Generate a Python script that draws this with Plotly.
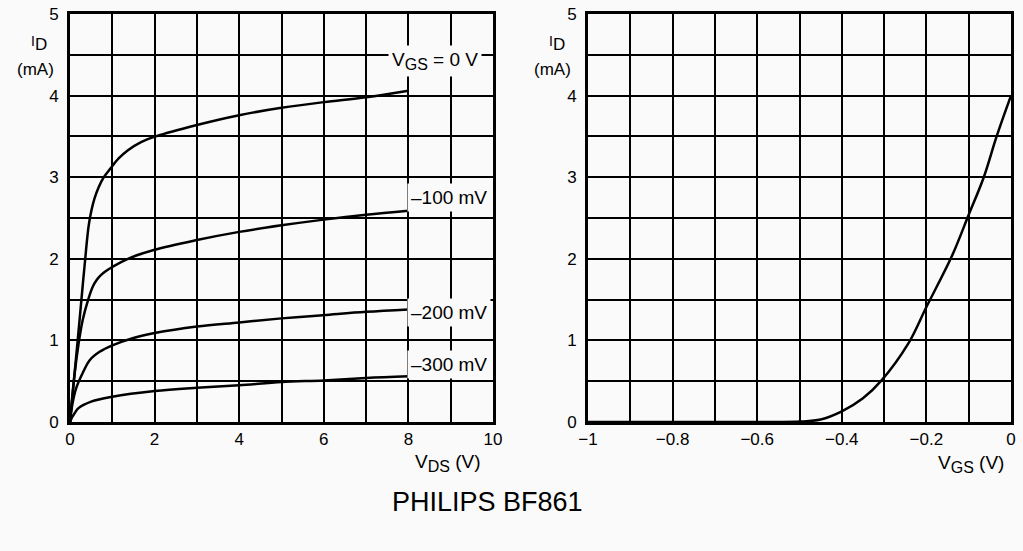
import plotly.graph_objects as go

# ---- Output characteristics (left) ----
vds_0 = [0, 0.1, 0.2, 0.27, 0.36, 0.44, 0.51, 0.58, 0.68, 0.8, 0.96, 1.15, 1.37, 1.68, 2.03, 3, 4, 5, 6, 7, 8]
id_0 = [0, 0.55, 1.1, 1.5, 2.0, 2.4, 2.6, 2.74, 2.88, 3.0, 3.11, 3.23, 3.33, 3.43, 3.5, 3.64, 3.76, 3.85, 3.92, 3.98, 4.06]

vds_100 = [0, 0.1, 0.2, 0.3, 0.43, 0.54, 0.63, 0.73, 0.85, 1.0, 1.37, 2, 3, 4, 5, 6, 7, 8]
id_100 = [0, 0.55, 0.95, 1.25, 1.5, 1.66, 1.74, 1.8, 1.85, 1.9, 2.0, 2.11, 2.23, 2.33, 2.41, 2.48, 2.54, 2.59]

vds_200 = [0, 0.05, 0.15, 0.3, 0.47, 0.7, 1, 1.5, 2, 3, 4, 5, 6, 7, 8]
id_200 = [0, 0.2, 0.42, 0.6, 0.76, 0.86, 0.94, 1.03, 1.09, 1.17, 1.22, 1.27, 1.31, 1.35, 1.38]

vds_300 = [0, 0.05, 0.1, 0.2, 0.5, 1, 2, 3, 4, 5, 6, 7, 8]
id_300 = [0, 0.06, 0.1, 0.17, 0.25, 0.31, 0.38, 0.42, 0.45, 0.49, 0.51, 0.54, 0.56]

SUB = "<sub><span style='font-size:16px'>{}</span></sub>"
curve_labels = ["V" + SUB.format("GS") + " = 0 V", "\u2013100 mV", "\u2013200 mV", "\u2013300 mV"]
label_x = [8.63, 8.96, 8.96, 8.96]
label_y = [4.42, 2.75, 1.34, 0.70]

# ---- Transfer characteristic (right) ----
vgs = [-1, -0.9, -0.8, -0.7, -0.6, -0.55, -0.5, -0.45, -0.4, -0.35, -0.306, -0.243, -0.2, -0.14, -0.1, -0.065, -0.034, 0]
id_t = [0, 0, 0, 0, 0, 0, 0.005, 0.03, 0.13, 0.29, 0.51, 0.96, 1.41, 2.03, 2.54, 2.99, 3.5, 4.0]

x_left_ticks = [0, 2, 4, 6, 8, 10]
x_right_ticks = [-1, -0.8, -0.6, -0.4, -0.2, 0]
x_right_text = ["\u22121", "\u22120.8", "\u22120.6", "\u22120.4", "\u22120.2", "0"]
y_ticks = [0, 1, 2, 3, 4, 5]

BG = "#fafafa"
FONT = "Liberation Sans, Arial, Helvetica, sans-serif"

fig = go.Figure()
line = dict(color="black", width=2.5, shape="spline", smoothing=1.0)
for xs, ys in [(vds_0, id_0), (vds_100, id_100), (vds_200, id_200), (vds_300, id_300)]:
    fig.add_trace(go.Scatter(x=xs, y=ys, mode="lines", line=line, xaxis="x", yaxis="y",
                             showlegend=False, hoverinfo="skip"))
fig.add_trace(go.Scatter(x=vgs, y=id_t, mode="lines", line=line, xaxis="x2", yaxis="y2",
                         showlegend=False, hoverinfo="skip"))

def xax(domain, rng, minor, tickvals, ticktext=None, anchor="y"):
    d = dict(domain=domain, range=rng, tickmode="array", tickvals=tickvals,
             showgrid=True, gridcolor="black", gridwidth=2,
             minor=dict(dtick=minor, tick0=0, showgrid=True, gridcolor="black", gridwidth=2, ticks=""),
             showline=True, linecolor="black", linewidth=3, mirror=True,
             zeroline=False, ticks="", ticklabelstandoff=0, automargin=False,
             tickfont=dict(family=FONT, size=17, color="black"), anchor=anchor, fixedrange=True)
    if ticktext is not None:
        d["ticktext"] = ticktext
    return d

def yax(anchor):
    return dict(domain=[0, 1], range=[0, 5], tickmode="array", tickvals=y_ticks,
                showgrid=True, gridcolor="black", gridwidth=2,
                minor=dict(dtick=0.5, tick0=0, showgrid=True, gridcolor="black", gridwidth=2, ticks=""),
                showline=True, linecolor="black", linewidth=3, mirror=True,
                zeroline=False, ticks="", ticklabelstandoff=5, automargin=False,
                tickfont=dict(family=FONT, size=17, color="black"), anchor=anchor, fixedrange=True)

fig.update_layout(
    width=1023, height=551, autosize=False,
    margin=dict(l=0, r=0, t=14, b=129, pad=0, autoexpand=False),
    paper_bgcolor=BG, plot_bgcolor=BG,
    font=dict(family=FONT, size=17, color="black"),
    xaxis=xax([70 / 1023, 493 / 1023], [0, 10], 1, x_left_ticks, anchor="y"),
    yaxis=yax("x"),
    xaxis2=xax([588 / 1023, 1011 / 1023], [-1, 0], 0.1, x_right_ticks, x_right_text, anchor="y2"),
    yaxis2=yax("x2"),
)

ann = []
for t, x, y in zip(curve_labels, label_x, label_y):
    ann.append(dict(x=x, y=y, xref="x", yref="y", text=t, showarrow=False,
                    xanchor="center", yanchor="middle",
                    bgcolor=BG, borderpad=3, font=dict(family=FONT, size=19, color="black")))

ID_TXT = "<span style='font-size:14px'>I</span><sub><span style='font-size:17px'>D</span></sub>"
for px in [39, 557]:
    ann.append(dict(x=px / 1023, y=4.64, xref="paper", yref="y", text=ID_TXT,
                    xanchor="center", yanchor="middle",
                    showarrow=False, font=dict(family=FONT, size=17)))
for px in [35.5, 552]:
    ann.append(dict(x=px / 1023, y=4.32, xref="paper", yref="y", text="(mA)",
                    xanchor="center", yanchor="middle",
                    showarrow=False, font=dict(family=FONT, size=17)))
ann.append(dict(x=448 / 1023, y=1 - (463 - 14) / 408, xref="paper", yref="paper",
                xanchor="center", yanchor="middle",
                text="V" + SUB.format("DS") + " (V)", showarrow=False, font=dict(family=FONT, size=19)))
ann.append(dict(x=971 / 1023, y=1 - (464 - 14) / 408, xref="paper", yref="paper",
                xanchor="center", yanchor="middle",
                text="V" + SUB.format("GS") + " (V)", showarrow=False, font=dict(family=FONT, size=19)))
ann.append(dict(x=487 / 1023, y=1 - (502 - 14) / 408, xref="paper", yref="paper",
                xanchor="center", yanchor="middle",
                text="PHILIPS BF861", showarrow=False, font=dict(family=FONT, size=27)))
fig.update_layout(annotations=ann)

fig.write_html("out.html", config={"displayModeBar": False},
               post_script="document.body.style.margin='0px';document.body.style.overflow='hidden';")
